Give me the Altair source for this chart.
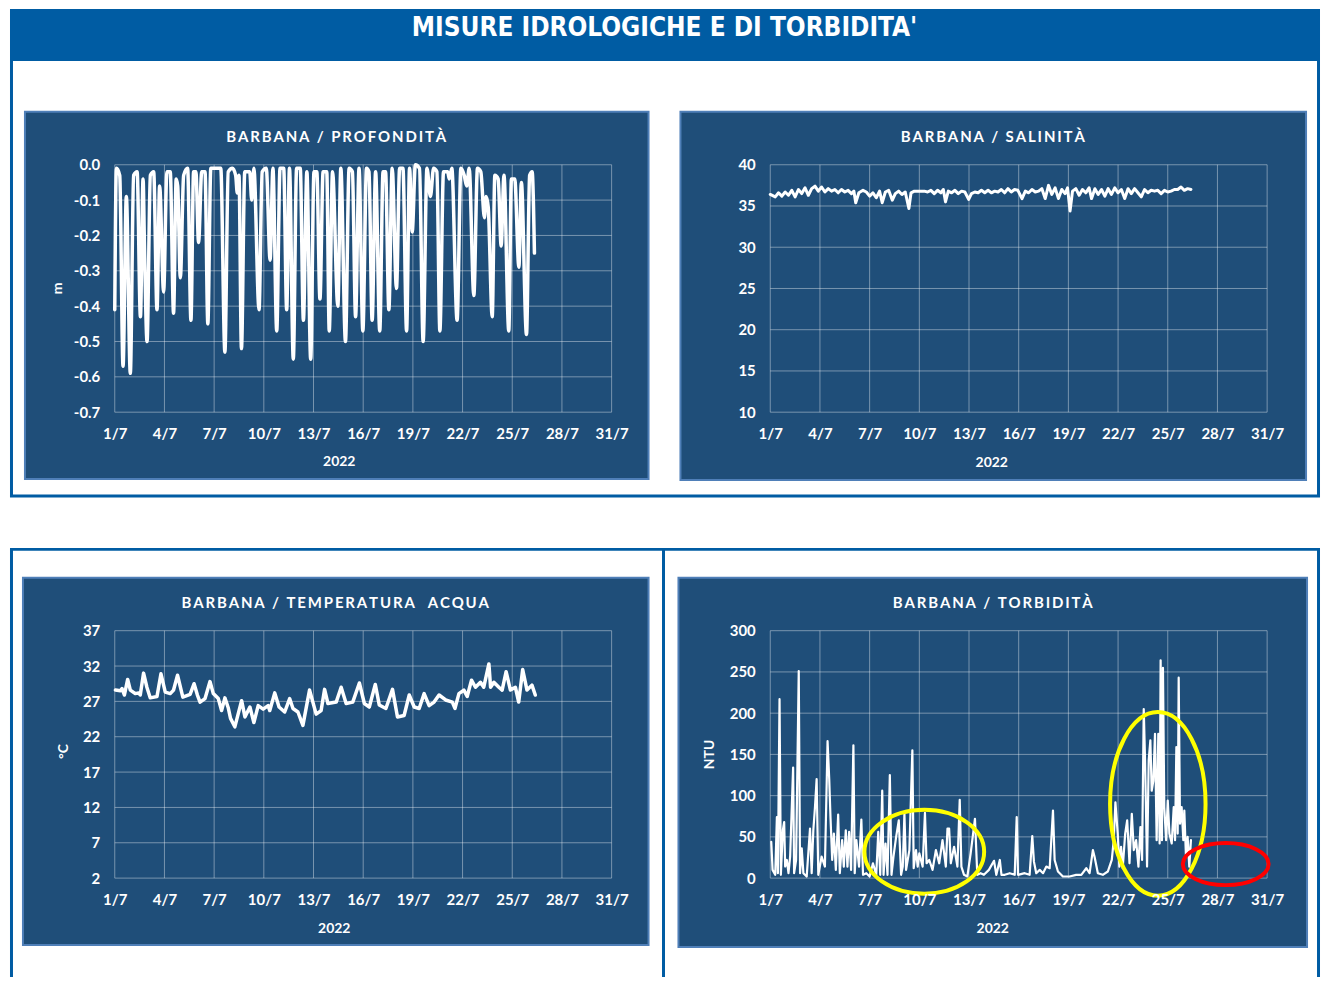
import altair as alt
import pandas as pd

# ------------------------------------------------------------------ data
X_TICKS = [0, 3, 6, 9, 12, 15, 18, 21, 24, 27, 30]          # 1/7 ... 31/7
DEPTH_TICKS = [0.0, -0.1, -0.2, -0.3, -0.4, -0.5, -0.6, -0.7]
SAL_TICKS = [10, 15, 20, 25, 30, 35, 40]
TEMP_TICKS = [2, 7, 12, 17, 22, 27, 32, 37]
TURB_TICKS = [0, 50, 100, 150, 200, 250, 300]

DEPTH_DAY = [0.00, 0.10, 0.30, 0.50, 0.70, 0.94, 1.14, 1.35, 1.55, 1.71,
             1.79, 1.95, 2.15, 2.35, 2.55, 2.71, 2.95, 3.15, 3.35, 3.55,
             3.71, 3.80, 3.96, 4.16, 4.40, 4.60, 4.76, 4.90, 5.06, 5.25,
             5.45, 5.62, 5.80, 6.10, 6.40, 6.65, 6.85, 7.10, 7.30, 7.40,
             7.50, 7.65, 7.85, 8.15, 8.27, 8.40, 8.71, 8.90, 9.15, 9.38,
             9.55, 9.78, 9.98, 10.20, 10.38, 10.55, 10.78, 10.98, 11.20, 11.39,
             11.60, 11.83, 12.03, 12.20, 12.39, 12.58, 12.80, 12.95, 13.15, 13.47,
             13.65, 13.93, 14.15, 14.35, 14.54, 14.75, 14.98, 15.20, 15.35, 15.54,
             15.75, 16.00, 16.20, 16.35, 16.55, 16.75, 17.01, 17.20, 17.40, 17.62,
             17.80, 17.96, 18.15, 18.40, 18.62, 18.85, 19.06, 19.25, 19.45, 19.63,
             19.85, 20.10, 20.20, 20.35, 20.67, 20.90, 21.10, 21.25, 21.40, 21.68,
             21.90, 22.10, 22.32, 22.42, 22.55, 22.79, 22.95, 23.15, 23.33, 23.50,
             23.79, 23.95, 24.15, 24.40, 24.55, 24.86, 25.05, 25.20, 25.34]
DEPTH_M = [-0.41, -0.01, -0.03, -0.57, -0.09, -0.59, -0.03, -0.02, -0.43, -0.04,
           -0.22, -0.50, -0.03, -0.02, -0.41, -0.06, -0.36, -0.02, -0.02, -0.42,
           -0.04, -0.06, -0.32, -0.03, -0.01, -0.44, -0.02, -0.02, -0.22, -0.02,
           -0.02, -0.45, -0.01, -0.01, -0.01, -0.53, -0.02, -0.01, -0.03, -0.08,
           -0.03, -0.52, -0.02, -0.02, -0.10, -0.01, -0.41, -0.02, -0.01, -0.27,
           -0.01, -0.47, -0.01, -0.01, -0.41, -0.01, -0.55, -0.01, -0.01, -0.44,
           -0.02, -0.55, -0.02, -0.02, -0.38, -0.02, -0.02, -0.47, -0.02, -0.40,
           -0.01, -0.50, -0.01, -0.02, -0.43, -0.01, -0.47, -0.01, -0.02, -0.44,
           -0.02, -0.47, -0.02, -0.02, -0.41, -0.01, -0.35, -0.01, -0.01, -0.47,
           -0.01, -0.19, -0.00, -0.01, -0.50, -0.01, -0.09, -0.01, -0.02, -0.47,
           -0.02, -0.02, -0.04, -0.01, -0.44, -0.01, -0.03, -0.06, -0.01, -0.37,
           -0.01, -0.02, -0.15, -0.09, -0.12, -0.43, -0.03, -0.04, -0.23, -0.03,
           -0.47, -0.04, -0.04, -0.29, -0.05, -0.48, -0.03, -0.02, -0.25]

SAL_DAY = [0.0, 0.3, 0.5, 0.7, 0.9, 1.1, 1.3, 1.5, 1.7, 1.9,
           2.1, 2.3, 2.5, 2.7, 2.9, 3.1, 3.3, 3.5, 3.7, 3.9,
           4.1, 4.3, 4.5, 4.7, 4.9, 5.05, 5.16, 5.35, 5.6, 5.8,
           6.0, 6.2, 6.4, 6.6, 6.76, 6.95, 7.15, 7.37, 7.55, 7.75,
           7.95, 8.15, 8.37, 8.5, 8.7, 9.0, 9.3, 9.5, 9.7, 9.9,
           10.1, 10.3, 10.45, 10.58, 10.75, 10.95, 11.15, 11.35, 11.55, 11.75,
           11.98, 12.15, 12.35, 12.55, 12.75, 12.95, 13.15, 13.35, 13.55, 13.75,
           13.95, 14.15, 14.35, 14.55, 14.75, 14.95, 15.2, 15.4, 15.6, 15.8,
           16.0, 16.2, 16.4, 16.6, 16.8, 17.0, 17.2, 17.4, 17.6, 17.8,
           17.95, 18.1, 18.25, 18.45, 18.65, 18.85, 19.05, 19.25, 19.4, 19.6,
           19.8, 20.0, 20.2, 20.4, 20.6, 20.8, 21.0, 21.2, 21.4, 21.6,
           21.8, 22.0, 22.2, 22.4, 22.6, 22.8, 23.0, 23.2, 23.4, 23.6,
           23.8, 24.0, 24.2, 24.4, 24.6, 24.8, 25.0, 25.2, 25.4]
SAL_PSU = [36.4, 36.1, 36.6, 36.2, 36.7, 36.3, 36.9, 36.1, 37.0, 36.5,
           37.2, 36.3, 37.1, 37.4, 36.8, 37.3, 36.7, 37.1, 36.8, 37.0,
           36.6, 37.0, 36.7, 36.9, 36.5, 36.8, 35.4, 36.6, 36.9, 36.7,
           36.2, 36.6, 36.0, 36.8, 35.4, 36.7, 36.9, 35.7, 36.5, 36.8,
           36.4, 36.7, 34.7, 36.6, 36.8, 36.8, 36.8, 36.7, 36.9, 36.5,
           36.9, 36.6, 37.0, 35.5, 36.8, 36.6, 36.9, 36.5, 36.8, 36.7,
           35.8, 36.5, 36.7, 36.6, 36.9, 36.6, 36.9, 36.6, 36.8, 36.7,
           37.0, 36.6, 37.1, 36.7, 37.0, 36.9, 35.9, 36.8, 36.6, 37.0,
           36.7, 36.8, 37.1, 35.9, 37.5, 36.4, 37.2, 35.9, 37.0, 36.5,
           37.2, 34.4, 36.8, 37.1, 36.3, 37.0, 36.6, 37.2, 35.9, 37.1,
           36.4, 37.0, 36.2, 37.1, 36.4, 37.2, 36.6, 37.0, 35.9, 37.1,
           36.5, 37.1, 36.6, 36.1, 37.0, 36.6, 36.9, 36.8, 36.9, 36.5,
           36.9, 36.7, 36.8, 37.0, 37.0, 37.3, 36.9, 37.1, 37.0]

TEMP_DAY = [0.04, 0.34, 0.44, 0.58, 0.78, 0.94, 1.24, 1.44, 1.54, 1.74,
            1.94, 2.14, 2.55, 2.79, 3.05, 3.35, 3.55, 3.79, 4.11, 4.55,
            4.79, 4.99, 5.15, 5.45, 5.75, 5.95, 6.25, 6.45, 6.65, 6.85,
            6.99, 7.25, 7.66, 7.86, 8.16, 8.40, 8.66, 8.96, 9.26, 9.36,
            9.66, 9.92, 10.26, 10.56, 10.76, 11.06, 11.36, 11.76, 12.16, 12.46,
            12.67, 12.87, 13.37, 13.67, 13.97, 14.37, 14.77, 15.07, 15.37, 15.73,
            15.97, 16.37, 16.77, 17.07, 17.47, 17.78, 18.08, 18.38, 18.68, 18.98,
            19.28, 19.58, 19.98, 20.38, 20.54, 20.78, 21.08, 21.28, 21.54, 21.78,
            22.08, 22.28, 22.59, 22.69, 22.89, 23.19, 23.39, 23.63, 23.89, 24.19,
            24.39, 24.63, 24.89, 25.19, 25.39]
TEMP_C = [28.6, 28.5, 28.8, 27.9, 30.1, 28.6, 28.1, 28.2, 27.9, 31.0,
          29.0, 27.5, 27.7, 30.9, 28.3, 28.1, 28.6, 30.7, 27.6, 28.0,
          29.5, 27.9, 26.9, 27.4, 29.8, 28.1, 27.4, 25.7, 27.5, 26.1,
          24.6, 23.4, 27.1, 24.8, 26.2, 24.0, 26.4, 25.9, 26.4, 25.7,
          28.2, 26.2, 25.5, 27.4, 26.0, 25.5, 23.6, 28.6, 25.2, 25.7,
          28.7, 26.7, 26.9, 29.0, 26.7, 26.9, 29.6, 26.7, 26.2, 29.4,
          26.5, 26.0, 28.7, 24.8, 25.0, 27.9, 26.2, 26.0, 28.1, 26.4,
          26.9, 27.9, 27.2, 26.9, 26.0, 28.1, 28.6, 27.7, 30.0, 29.0,
          29.7, 29.0, 32.3, 29.0, 29.7, 29.0, 28.6, 31.2, 28.6, 29.0,
          26.9, 31.5, 28.6, 29.3, 27.9]

TURB_DAY = [0.06, 0.14, 0.30, 0.40, 0.46, 0.56, 0.64, 0.76, 0.84, 0.90,
            1.00, 1.10, 1.20, 1.38, 1.44, 1.56, 1.72, 1.80, 1.90, 2.00,
            2.20, 2.40, 2.50, 2.60, 2.70, 2.80, 2.90, 3.10, 3.30, 3.46,
            3.56, 3.64, 3.74, 3.84, 3.96, 4.10, 4.20, 4.34, 4.44, 4.56,
            4.66, 4.76, 4.88, 5.02, 5.10, 5.20, 5.36, 5.50, 5.60, 5.80,
            6.00, 6.20, 6.40, 6.52, 6.64, 6.76, 6.84, 6.96, 7.08, 7.22,
            7.32, 7.44, 7.60, 7.76, 7.90, 8.00, 8.10, 8.20, 8.40, 8.58,
            8.66, 8.80, 8.90, 9.00, 9.20, 9.34, 9.44, 9.60, 9.80, 10.00,
            10.20, 10.40, 10.60, 10.70, 10.80, 10.90, 11.10, 11.30, 11.44, 11.54,
            11.70, 11.90, 12.10, 12.36, 12.50, 12.70, 12.90, 13.20, 13.51, 13.65,
            13.86, 13.96, 14.16, 14.46, 14.76, 14.88, 14.96, 15.36, 15.66, 15.82,
            15.92, 16.06, 16.27, 16.47, 16.67, 16.87, 17.07, 17.17, 17.37, 17.67,
            18.07, 18.47, 18.78, 19.08, 19.28, 19.48, 19.58, 19.78, 20.08, 20.38,
            20.62, 20.74, 20.84, 20.98, 21.08, 21.18, 21.28, 21.43, 21.55, 21.69,
            21.83, 21.95, 22.09, 22.23, 22.35, 22.45, 22.55, 22.63, 22.75, 22.85,
            22.95, 23.03, 23.13, 23.23, 23.33, 23.43, 23.51, 23.57, 23.65, 23.71,
            23.79, 23.90, 24.00, 24.10, 24.24, 24.36, 24.44, 24.52, 24.60, 24.66,
            24.74, 24.84, 24.94, 25.00, 25.10, 25.20, 25.30, 25.40]
TURB_NTU = [44, 10, 4, 74, 6, 217, 4, 58, 68, 14,
            22, 6, 26, 134, 6, 22, 251, 6, 36, 6,
            2, 60, 6, 58, 86, 120, 4, 26, 14, 166,
            120, 72, 22, 54, 10, 77, 6, 46, 14, 58,
            14, 56, 10, 161, 6, 46, 14, 71, 4, 6,
            2, 18, 4, 56, 4, 106, 4, 42, 4, 125,
            4, 26, 50, 70, 4, 14, 78, 10, 34, 155,
            12, 34, 14, 30, 14, 79, 18, 22, 10, 34,
            18, 46, 14, 60, 60, 18, 38, 14, 95, 14,
            4, 2, 30, 72, 4, 6, 4, 10, 21, 4,
            22, 4, 4, 6, 4, 74, 4, 6, 4, 51,
            20, 6, 10, 6, 14, 12, 82, 22, 8, 2,
            2, 4, 4, 12, 6, 34, 26, 6, 4, 8,
            22, 46, 92, 54, 14, 38, 12, 54, 70, 18,
            78, 34, 46, 14, 62, 22, 205, 143, 14, 143,
            167, 106, 118, 175, 46, 175, 42, 264, 46, 255,
            86, 46, 94, 54, 42, 86, 46, 159, 54, 243,
            66, 86, 46, 82, 26, 50, 14, 46]

# annotation ellipses on the turbidity panel (centre day, centre NTU)
ELL_DAY = [9.3, 23.4, 27.5]
ELL_NTU = [32, 90, 17]

PAGE_TITLE = "MISURE IDROLOGICHE E DI TORBIDITA'"

# ------------------------------------------------------------------ style
W, H = 498, 248
FONT = "Lato"
BLUE = "#005CA3"
BOX = "#1F4E79"
BOX_EDGE = "#4F7FB8"
DEC = alt.Data(values=[{}])


def spaced(s):
    return "\u2009".join(s)


def xaxis():
    return alt.Axis(values=X_TICKS, labelExpr="(datum.value + 1) + '/7'", title=None,
                    grid=False, domain=False, ticks=False, tickSize=0, labelPadding=14,
                    labelFont=FONT, labelFontSize=15, labelFontWeight="bold",
                    labelColor="white", labelFlush=False, labelOverlap=False, zindex=1)


def yaxis(ticks, expr):
    return alt.Axis(values=ticks, labelExpr=expr, title=None, grid=False, domain=False,
                    ticks=False, tickSize=0, labelPadding=15, labelFont=FONT,
                    labelFontSize=15, labelFontWeight="bold", labelColor="white",
                    labelOverlap=False, labelFlush=False, zindex=1)


def text_layer(txt, x, y, size=15, angle=0, color="white", font=FONT):
    return alt.Chart(DEC).mark_text(text=txt, font=font, fontSize=size, fontWeight="bold",
                                    color=color, align="center", baseline="middle",
                                    angle=angle).encode(
        x=alt.value(x), y=alt.value(y))


def rule_layer(x1, x2, y1, y2, color=BLUE, width=3):
    return alt.Chart(DEC).mark_rule(color=color, strokeWidth=width).encode(
        x=alt.value(x1), x2=alt.value(x2), y=alt.value(y1), y2=alt.value(y2))


def panel(day, val, ticks, domain, expr, title, box, title_xy, year_xy, ytitle=None,
          ytitle_xy=None, lw=3.5, interp="linear", extras=()):
    xs = alt.Scale(domain=[0, 30], nice=False, zero=False)
    ys = alt.Scale(domain=domain, nice=False, zero=False)
    xa, ya = xaxis(), yaxis(ticks, expr)
    bg = alt.Chart(DEC).mark_rect(fill=BOX, stroke=BOX_EDGE, strokeWidth=2).encode(
        x=alt.value(box[0]), x2=alt.value(box[1]), y=alt.value(box[2]), y2=alt.value(box[3]))
    hgrid = alt.Chart(pd.DataFrame({"v": ticks})).mark_rule(
        color="white", opacity=0.4, strokeWidth=1).encode(
        y=alt.Y("v:Q", scale=ys, axis=ya), x=alt.value(0), x2=alt.value(W))
    vgrid = alt.Chart(pd.DataFrame({"d": X_TICKS})).mark_rule(
        color="white", opacity=0.4, strokeWidth=1).encode(
        x=alt.X("d:Q", scale=xs, axis=xa), y=alt.value(0), y2=alt.value(H))
    line = alt.Chart(pd.DataFrame({"day": day, "val": val})).mark_line(
        color="white", strokeWidth=lw, interpolate=interp, strokeJoin="round",
        strokeCap="round").encode(
        x=alt.X("day:Q", scale=xs, axis=xa), y=alt.Y("val:Q", scale=ys, axis=ya))
    layers = [bg, hgrid, vgrid, line,
              text_layer(spaced(title), title_xy[0], title_xy[1], size=15),
              text_layer("2022", year_xy[0], year_xy[1], size=14)]
    if ytitle:
        layers.append(text_layer(ytitle, ytitle_xy[0], ytitle_xy[1], size=14, angle=270))
    for e in extras:
        layers.append(e(xs, ys, xa, ya))
    return alt.layer(*layers).properties(width=W, height=H)


# page decorations (relative to the plot origin of the panel that carries them)
def top_frame(xs, ys, xa, ya):
    return alt.layer(
        alt.Chart(DEC).mark_rect(fill=BLUE).encode(
            x=alt.value(-105), x2=alt.value(1208), y=alt.value(-156), y2=alt.value(-104)),
        text_layer(PAGE_TITLE, 551, -137, size=26,
                   font="Liberation Sans Narrow, DejaVu Sans Condensed, Roboto"),
        rule_layer(-103.5, -103.5, -104, 333),
        rule_layer(1206.5, 1206.5, -104, 333),
        rule_layer(-105, 1208, 332, 332),
    )


def bottom_frame(xs, ys, xa, ya):
    return alt.layer(
        rule_layer(-105, 1208, -81.5, -81.5),
        rule_layer(-103.5, -103.5, -82, 347),
        rule_layer(550, 550, -82, 347),
        rule_layer(1206.5, 1206.5, -82, 347),
    )


def ellipse(i, path, size, color):
    def make(xs, ys, xa, ya):
        df = pd.DataFrame({"day": [ELL_DAY[i]], "ntu": [ELL_NTU[i]]})
        return alt.Chart(df).mark_point(shape=path, size=size, filled=False, color=color,
                                        strokeWidth=4, opacity=1).encode(
            x=alt.X("day:Q", scale=xs, axis=xa), y=alt.Y("ntu:Q", scale=ys, axis=ya))
    return make


ELL_WIDE = ("M-1,0C-1,-0.387,-0.552,-0.7,0,-0.7C0.552,-0.7,1,-0.387,1,0"
            "C1,0.387,0.552,0.7,0,0.7C-0.552,0.7,-1,0.387,-1,0Z")
ELL_TALL = ("M-0.52,0C-0.52,-0.552,-0.287,-1,0,-1C0.287,-1,0.52,-0.552,0.52,0"
            "C0.52,0.552,0.287,1,0,1C-0.287,1,-0.52,0.552,-0.52,0Z")
ELL_FLAT = ("M-1,0C-1,-0.27,-0.552,-0.49,0,-0.49C0.552,-0.49,1,-0.27,1,0"
            "C1,0.27,0.552,0.49,0,0.49C-0.552,0.49,-1,0.27,-1,0Z")

DEPTH_EXPR = "replace(format(datum.value, '.1f'), '\u2212', '-')"
INT_EXPR = "format(datum.value, 'd')"

p1 = panel(DEPTH_DAY, DEPTH_M, DEPTH_TICKS, [-0.7, 0.0], DEPTH_EXPR,
           "BARBANA / PROFONDITÀ", (-90, 535, -53, 315), (222, -28), (225, 298),
           "m", (-57, 124), lw=3.5, interp="monotone", extras=[top_frame])
p2 = panel(SAL_DAY, SAL_PSU, SAL_TICKS, [10, 40], INT_EXPR,
           "BARBANA / SALINITÀ", (-90, 537, -53, 316), (223, -28), (222, 299),
           lw=3)
p3 = panel(TEMP_DAY, TEMP_C, TEMP_TICKS, [2, 37], INT_EXPR,
           "BARBANA / TEMPERATURA  ACQUA", (-92, 535, -53, 315), (221, -28), (220, 299),
           "°C", (-51, 121), lw=3.5, extras=[bottom_frame])
p4 = panel(TURB_DAY, TURB_NTU, TURB_TICKS, [0, 300], INT_EXPR,
           "BARBANA / TORBIDITÀ", (-92, 538, -53, 317), (223, -28), (223, 299),
           "NTU", (-60, 124), lw=2.2,
           extras=[ellipse(0, ELL_WIDE, 14400, "#FFFF00"),
                   ellipse(1, ELL_TALL, 33856, "#FFFF00"),
                   ellipse(2, ELL_FLAT, 7396, "#FF0000")])

chart = alt.concat(p1, p2, p3, p4, columns=2,
                   spacing=alt.RowColnumber(row=219, column=159),
                   bounds="flush").properties(
    padding=0, background="white").configure_view(stroke=None)

chart.save("out.html", embed_options={"renderer": "svg", "actions": False})
